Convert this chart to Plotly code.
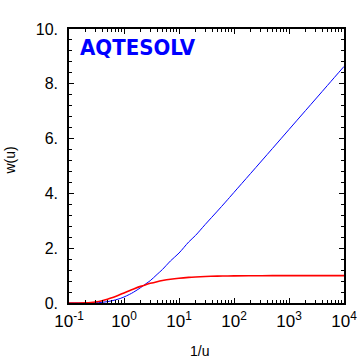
import plotly.graph_objects as go

# 1/u values and read-off curve values
inv_u = [0.1, 0.15, 0.2, 0.25, 0.3, 0.4, 0.5, 0.6, 0.7, 0.85, 1.0, 1.25, 1.5, 2.0, 2.5, 3.0, 4.0,
         5.0, 7.0, 10.0, 15.0, 20.0, 30.0, 50.0, 70.0, 100.0, 200.0, 500.0, 1000.0,
         2000.0, 5000.0, 10000.0]
w_blue = [0.0, 0.0002, 0.0011, 0.0038, 0.0070, 0.025, 0.049, 0.080, 0.114, 0.163, 0.219, 0.311,
          0.398, 0.560, 0.702, 0.815, 1.045, 1.223, 1.536, 1.823, 2.227, 2.468, 2.867, 3.355,
          3.683, 4.038, 4.726, 5.639, 6.332, 7.024, 7.940, 8.633]
w_red = [0.0, 0.0013, 0.0067, 0.018, 0.036, 0.082, 0.135, 0.189, 0.240, 0.309, 0.368, 0.449,
         0.513, 0.607, 0.670, 0.717, 0.779, 0.819, 0.867, 0.905, 0.936, 0.951, 0.967, 0.980,
         0.986, 0.990, 0.995, 0.998, 0.999, 1.0, 1.0, 1.0]

x_tickvals = [0.1, 1, 10, 100, 1000, 10000]
x_ticktext = ["10<sup>-1</sup>", "10<sup>0</sup>", "10<sup>1</sup>", "10<sup>2</sup>",
              "10<sup>3</sup>", "10<sup>4</sup>"]
y_tickvals = [0, 2, 4, 6, 8, 10]
y_ticktext = ["0.", "2.", "4.", "6.", "8.", "10."]

FAM = "Liberation Sans, Arial, sans-serif"

fig = go.Figure()
fig.add_trace(go.Scatter(x=inv_u, y=w_blue, mode="lines",
                         line=dict(color="rgb(0,0,255)", width=1), line_shape="spline"))
fig.add_trace(go.Scatter(x=inv_u, y=w_red, mode="lines",
                         line=dict(color="rgb(255,0,0)", width=1.6), line_shape="spline"))

fig.update_layout(
    width=360, height=360,
    margin=dict(l=69, r=16, t=29, b=57, autoexpand=False),
    paper_bgcolor="white", plot_bgcolor="white",
    showlegend=False,
    font=dict(family=FAM, size=15, color="black"),
    xaxis=dict(type="log", range=[-1, 4], tickvals=x_tickvals, ticktext=x_ticktext,
               showline=True, linecolor="black", linewidth=1.5, mirror="ticks",
               ticks="inside", ticklen=5, tickcolor="black", showgrid=False, zeroline=False,
               minor=dict(ticks="inside", ticklen=3, tickcolor="black", dtick="D1", showgrid=False),
               automargin=False, ticklabelstandoff=2,
               tickfont=dict(family=FAM, size=17, color="black")),
    yaxis=dict(range=[0, 10], tickvals=y_tickvals, ticktext=y_ticktext,
               showline=True, linecolor="black", linewidth=1.5, mirror="ticks",
               ticks="inside", ticklen=5, tickcolor="black", showgrid=False, zeroline=False,
               minor=dict(ticks="inside", ticklen=3, tickcolor="black", dtick=0.4, showgrid=False),
               automargin=False, ticklabelstandoff=6,
               tickfont=dict(family=FAM, size=16, color="black")),
    annotations=[
        dict(text="<b>AQTESOLV</b>", xref="paper", yref="paper", x=0.033, y=0.985,
             xanchor="left", yanchor="top", showarrow=False,
             font=dict(family="Liberation Sans Narrow, DejaVu Sans Condensed, Arial", size=22,
                       color="rgb(0,0,255)")),
        dict(text="1/u", xref="paper", yref="paper", x=0.476, y=-0.175,
             xanchor="center", yanchor="middle", showarrow=False,
             font=dict(family=FAM, size=14, color="black")),
        dict(text="w(u)", xref="paper", yref="paper", x=-0.2145, y=0.52,
             xanchor="center", yanchor="middle", showarrow=False, textangle=-90,
             font=dict(family=FAM, size=14, color="black")),
    ],
)

fig.write_html("out.html", config={"displayModeBar": False},
               post_script="document.body.style.margin='0';")
